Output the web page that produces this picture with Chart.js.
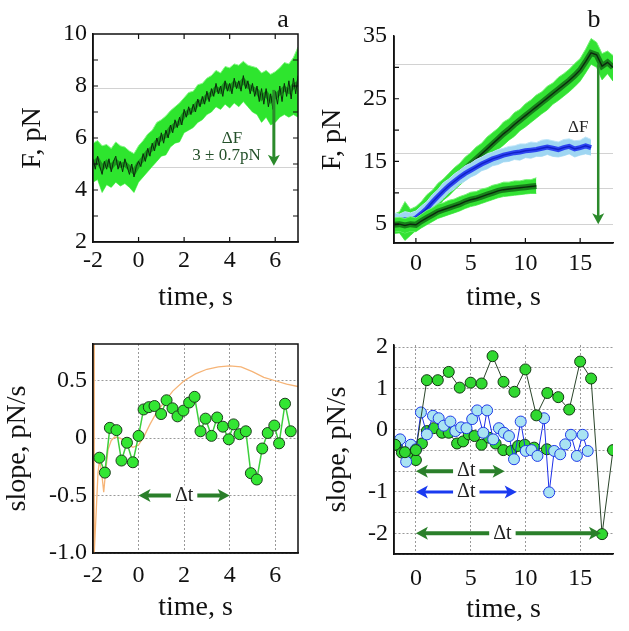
<!DOCTYPE html>
<html>
<head>
<meta charset="utf-8">
<script src="https://cdn.jsdelivr.net/npm/chart.js@4.4.0/dist/chart.umd.min.js"></script>
<style>
  html, body { margin: 0; padding: 0; background: #fff; }
  #wrap { position: relative; width: 629px; height: 631px; overflow: hidden; }
  canvas { position: absolute; }
</style>
</head>
<body>
<div id="wrap">
  <canvas id="ca" width="315" height="315" style="left:0;top:0"></canvas>
  <canvas id="cb" width="314" height="315" style="left:315px;top:0"></canvas>
  <canvas id="cc" width="315" height="316" style="left:0;top:315px"></canvas>
  <canvas id="cd" width="314" height="316" style="left:315px;top:315px"></canvas>
</div>
<script>
const SERIF = '"Liberation Serif", "Times New Roman", serif'

// ---- panel a: force trace (mean, upper and lower edge of the noise band)
const timeA = [-2.0, -1.8, -1.6, -1.4, -1.2, -1.0, -0.8, -0.6, -0.4, -0.2, 0.0, 0.2, 0.4, 0.6, 0.8, 1.0, 1.2, 1.4, 1.6, 1.8, 2.0, 2.2, 2.4, 2.6, 2.8, 3.0, 3.2, 3.4, 3.6, 3.8, 4.0, 4.2, 4.4, 4.6, 4.8, 5.0, 5.2, 5.4, 5.6, 5.8, 6.0, 6.2, 6.4, 6.6, 6.8, 7.0]
const forceA = [5.0, 5.15, 4.85, 5.05, 4.9, 5.1, 4.95, 5.0, 4.85, 4.7, 5.0, 5.2, 5.45, 5.6, 5.85, 6.0, 6.1, 6.35, 6.5, 6.6, 6.9, 7.0, 7.1, 7.35, 7.4, 7.6, 7.7, 7.9, 7.8, 8.05, 7.9, 8.1, 8.0, 8.2, 8.0, 7.9, 7.8, 7.55, 7.7, 7.45, 7.6, 7.75, 7.9, 7.8, 8.0, 8.1]
const forceHiA = [5.8, 5.9, 5.7, 5.75, 5.6, 5.85, 5.7, 5.65, 5.5, 5.4, 5.7, 5.9, 6.15, 6.3, 6.6, 6.7, 6.85, 7.05, 7.2, 7.35, 7.55, 7.75, 7.8, 8.05, 8.1, 8.3, 8.4, 8.6, 8.5, 8.75, 8.7, 8.85, 8.8, 8.95, 8.8, 8.75, 8.7, 8.5, 8.6, 8.45, 8.55, 8.7, 8.9, 8.85, 9.1, 9.5]
const forceLoA = [4.3, 4.4, 3.9, 4.2, 4.1, 4.3, 4.15, 4.25, 4.1, 3.9, 4.3, 4.5, 4.7, 4.9, 5.1, 5.3, 5.35, 5.65, 5.8, 5.85, 6.2, 6.3, 6.4, 6.6, 6.7, 6.9, 7.0, 7.2, 7.1, 7.3, 7.15, 7.35, 7.2, 7.4, 7.2, 7.0, 6.9, 6.6, 6.8, 6.5, 6.6, 6.8, 6.9, 6.8, 6.9, 6.8]
// dark raw signal every 0.1 s
const rawTimeA = [-2.0, -1.9, -1.8, -1.7, -1.6, -1.5, -1.4, -1.3, -1.2, -1.1, -1.0, -0.9, -0.8, -0.7, -0.6, -0.5, -0.4, -0.3, -0.2, -0.1, 0.0, 0.1, 0.2, 0.3, 0.4, 0.5, 0.6, 0.7, 0.8, 0.9, 1.0, 1.1, 1.2, 1.3, 1.4, 1.5, 1.6, 1.7, 1.8, 1.9, 2.0, 2.1, 2.2, 2.3, 2.4, 2.5, 2.6, 2.7, 2.8, 2.9, 3.0, 3.1, 3.2, 3.3, 3.4, 3.5, 3.6, 3.7, 3.8, 3.9, 4.0, 4.1, 4.2, 4.3, 4.4, 4.5, 4.6, 4.7, 4.8, 4.9, 5.0, 5.1, 5.2, 5.3, 5.4, 5.5, 5.6, 5.7, 5.8, 5.9, 6.0, 6.1, 6.2, 6.3, 6.4, 6.5, 6.6, 6.7, 6.8, 6.9, 7.0]
const rawForceA = [5.2, 4.8, 5.3, 4.9, 4.6, 5.1, 4.8, 5.2, 4.7, 5.1, 5.3, 4.8, 5.1, 4.7, 5.2, 4.9, 4.6, 5.0, 4.5, 4.9, 5.1, 4.9, 5.4, 5.1, 5.6, 5.3, 5.8, 5.5, 6.0, 5.7, 6.2, 5.8, 6.3, 6.0, 6.5, 6.2, 6.7, 6.4, 6.8, 6.5, 7.1, 6.8, 7.2, 6.9, 7.3, 7.0, 7.5, 7.2, 7.6, 7.3, 7.8, 7.4, 7.9, 7.6, 8.1, 7.7, 8.0, 7.6, 8.2, 7.8, 8.1, 7.7, 8.3, 7.9, 8.2, 7.8, 8.4, 7.9, 8.2, 7.7, 8.1, 7.6, 8.0, 7.4, 7.9, 7.3, 7.9, 7.2, 7.7, 7.1, 7.8, 7.3, 8.0, 7.4, 8.1, 7.6, 8.2, 7.5, 8.3, 7.7, 8.4]
const refLinesA = [7.93, 4.9]

// ---- panel b: three force traces
const timeB1 = [-2, -1.5, -1, -0.5, 0, 0.5, 1, 1.5, 2, 2.5, 3, 3.5, 4, 4.5, 5, 5.5, 6, 6.5, 7, 7.5, 8, 8.5, 9, 9.5, 10, 10.5, 11, 11.5, 12, 12.5, 13, 13.5, 14, 14.5, 15, 15.5, 16, 16.5, 17, 17.5, 18]
const forceB1 = [5.0, 5.2, 4.8, 5.3, 5.8, 6.9, 7.8, 8.7, 9.6, 10.5, 11.3, 12.2, 13.0, 13.8, 14.6, 15.4, 16.2, 17.0, 17.8, 18.6, 19.4, 20.1, 20.9, 21.6, 22.3, 23.0, 23.7, 24.4, 25.1, 25.8, 26.5, 27.2, 27.9, 28.7, 29.6, 30.9, 32.3, 32.0, 30.2, 30.8, 30.0]
const forceHiB1 = [6.6, 7.0, 8.6, 7.4, 7.8, 8.6, 9.7, 10.4, 11.5, 12.2, 13.1, 14.0, 14.7, 15.7, 16.4, 17.3, 17.9, 18.9, 19.6, 20.3, 21.3, 21.8, 22.8, 23.3, 24.2, 24.8, 25.6, 26.1, 27.0, 27.5, 28.4, 29.0, 29.7, 30.6, 31.4, 32.9, 34.6, 34.0, 32.2, 32.6, 31.9]
const forceLoB1 = [3.5, 3.6, 2.4, 3.2, 4.0, 5.1, 6.0, 6.9, 7.7, 8.8, 9.5, 10.4, 11.2, 12.0, 12.8, 13.6, 14.5, 15.1, 16.0, 16.9, 17.6, 18.4, 19.0, 19.9, 20.5, 21.2, 21.9, 22.6, 23.2, 24.1, 24.7, 25.4, 26.1, 26.9, 27.8, 29.1, 30.5, 30.0, 28.0, 29.0, 27.8]

const timeB2 = [-2, -1.5, -1, -0.5, 0, 0.5, 1, 1.5, 2, 2.5, 3, 3.5, 4, 4.5, 5, 5.5, 6, 6.5, 7, 7.5, 8, 8.5, 9, 9.5, 10, 10.5, 11, 11.5, 12, 12.5, 13, 13.5, 14, 14.5, 15, 15.5, 16]
const forceB2 = [5.6, 5.5, 5.7, 5.6, 6.0, 6.7, 7.5, 8.5, 9.4, 10.3, 11.1, 11.8, 12.5, 13.1, 13.6, 14.1, 14.6, 15.0, 15.4, 15.7, 16.0, 16.2, 16.4, 16.5, 16.7, 16.8, 16.9, 17.1, 17.3, 17.1, 16.9, 17.2, 17.4, 17.0, 17.2, 17.5, 17.2]
const forceHiB2 = [6.8, 6.6, 7.0, 6.8, 7.1, 7.9, 8.6, 9.7, 10.5, 11.6, 12.2, 13.0, 13.6, 14.3, 14.7, 15.3, 15.7, 16.2, 16.5, 16.9, 17.1, 17.4, 17.5, 17.8, 17.8, 18.1, 18.0, 18.4, 18.5, 18.3, 18.1, 18.5, 18.6, 18.3, 18.4, 18.9, 18.5]
const forceLoB2 = [4.5, 4.3, 4.6, 4.4, 4.9, 5.5, 6.4, 7.3, 8.3, 9.1, 10.0, 10.6, 11.4, 11.9, 12.5, 12.9, 13.5, 13.8, 14.3, 14.5, 14.9, 15.0, 15.3, 15.2, 15.6, 15.5, 15.8, 15.8, 16.1, 15.8, 15.7, 15.9, 16.2, 15.7, 16.0, 16.2, 16.0]

const timeB3 = [-2, -1.5, -1, -0.5, 0, 0.5, 1, 1.5, 2, 2.5, 3, 3.5, 4, 4.5, 5, 5.5, 6, 6.5, 7, 7.5, 8, 8.5, 9, 9.5, 10, 10.5, 11]
const forceB3 = [4.9, 5.0, 4.8, 5.0, 4.9, 5.5, 6.0, 6.5, 7.0, 7.3, 7.6, 7.9, 8.2, 8.6, 8.9, 9.1, 9.4, 9.7, 10.0, 10.3, 10.5, 10.6, 10.7, 10.8, 10.9, 11.0, 11.1]
const forceHiB3 = [6.0, 6.1, 5.9, 6.2, 6.0, 6.6, 7.2, 7.6, 8.2, 8.4, 8.8, 9.0, 9.4, 9.7, 10.1, 10.2, 10.6, 10.8, 11.2, 11.4, 11.7, 11.7, 11.9, 11.9, 12.1, 12.1, 12.4]
const forceLoB3 = [3.8, 3.9, 3.6, 3.9, 3.8, 4.4, 4.9, 5.4, 5.9, 6.2, 6.5, 6.8, 7.1, 7.5, 7.8, 8.0, 8.3, 8.6, 8.9, 9.2, 9.4, 9.5, 9.6, 9.7, 9.8, 9.9, 9.9]
const refLinesB = [30.5, 16.4, 10.7, 5]

// ---- panel c: slope points and smooth fit
const slopeTimeC = [-1.72, -1.48, -1.26, -0.97, -0.75, -0.51, -0.25, 0.0, 0.22, 0.45, 0.70, 0.99, 1.23, 1.49, 1.71, 1.97, 2.22, 2.46, 2.72, 2.94, 3.20, 3.45, 3.70, 3.96, 4.17, 4.43, 4.71, 4.93, 5.19, 5.43, 5.67, 5.96, 6.17, 6.43, 6.68]
const slopeC = [-0.17, -0.30, 0.09, 0.07, -0.195, -0.04, -0.21, 0.02, 0.25, 0.27, 0.28, 0.21, 0.33, 0.26, 0.19, 0.24, 0.31, 0.36, 0.06, 0.17, 0.02, 0.18, 0.10, -0.01, 0.12, 0.035, 0.06, -0.305, -0.36, -0.09, 0.045, 0.11, -0.045, 0.30, 0.06]
const fitTimeC = [-1.975, -1.965, -1.955, -1.945, -1.85, -1.78, -1.71, -1.62, -1.53, -1.45, -1.34, -1.2, -1.05, -0.8, -0.5, -0.25, 0, 0.25, 0.5, 0.75, 1.0, 1.5, 2.0, 2.5, 3.0, 3.5, 4.0, 4.5, 5.0, 5.5, 6.0, 6.5, 7.0]
const fitC = [0.82, -1.0, 0.82, -1.0, -0.6, -0.3, -0.19, -0.3, -0.47, -0.3, -0.10, -0.02, 0.01, 0.0, -0.05, -0.08, -0.06, 0.02, 0.12, 0.21, 0.28, 0.41, 0.50, 0.56, 0.60, 0.62, 0.63, 0.62, 0.58, 0.53, 0.50, 0.47, 0.45]

// ---- panel d: slopes of the three traces (axis in grid units, labels below)
const slopeTimeD1 = [-1.9, -1, 0, 1, 2, 3, 4, 5, 6, 7, 8, 9, 10, 11, 12, 13, 14, 15, 16, 17, 18]
const slopeD1 = [-0.36, -0.54, -0.49, 1.2, 1.2, 1.4, 1.02, 1.14, 1.12, 1.78, 1.16, 0.92, 1.46, 0.35, 0.89, 0.79, 0.49, 1.65, 1.24, -2.52, -0.49]
const slopeTimeD2 = [-1.44, -0.89, -0.46, 0, 0.46, 1.0, 1.56, 2.08, 2.54, 3.15, 3.6, 4.13, 4.62, 5.14, 5.6, 6.15, 6.5, 7.06, 7.58, 8.04, 8.5, 8.96, 9.57, 10.03, 10.55, 11.1, 11.7, 12.17, 12.63, 13.18, 13.64, 14.16, 14.7, 15.23, 15.69]
const slopeD2 = [-0.23, -0.77, -0.36, -0.47, 0.42, -0.11, 0.34, 0.28, 0.10, 0.20, -0.03, 0.06, 0.04, 0.26, 0.47, -0.07, 0.47, -0.23, 0.04, -0.07, -0.15, -0.71, 0.20, -0.51, -0.49, -0.63, 0.28, -1.51, -0.51, -0.59, -0.35, -0.12, -0.63, -0.12, -0.51]
const slopeTimeD3 = [-1.74, -1.28, -0.8, 0, 0.55, 1.0, 1.62, 2.39, 3.0, 3.76, 4.31, 4.83, 5.35, 5.99, 6.67, 7.28, 7.98, 8.72, 9.33, 9.94, 10.8, 11.96]
const slopeD3 = [-0.36, -0.55, -0.6, -0.73, -0.33, -0.03, 0.04, -0.07, -0.07, -0.33, -0.28, -0.11, -0.15, -0.36, -0.19, -0.33, -0.49, -0.51, -0.39, -0.36, -0.43, -0.47]
const slopeTicksD = [-3, -2.5, -2, -1.5, -1, -0.5, 0, 0.5, 1, 1.5, 2]
const slopeLabelsD = ['', '-2', '', '-1', '', '', '0', '', '1', '', '2']

const pts = (xs, ys) => xs.map((x, i) => ({ x: x, y: ys[i] }))

function drawArrow(ctx, x1, y1, x2, y2, color, w, hl, hw, both) {
    const ang = Math.atan2(y2 - y1, x2 - x1)
    const c = Math.cos(ang), s = Math.sin(ang)
    ctx.strokeStyle = color
    ctx.fillStyle = color
    ctx.lineWidth = w
    ctx.beginPath()
    ctx.moveTo(both ? x1 + c * hl * 0.7 : x1, both ? y1 + s * hl * 0.7 : y1)
    ctx.lineTo(x2 - c * hl * 0.7, y2 - s * hl * 0.7)
    ctx.stroke()
    const head = (hx, hy, cc, ss) => {
        ctx.beginPath()
        ctx.moveTo(hx, hy)
        ctx.lineTo(hx - hl * cc - hw * ss, hy - hl * ss + hw * cc)
        ctx.lineTo(hx - hl * cc * 0.75, hy - hl * ss * 0.75)
        ctx.lineTo(hx - hl * cc + hw * ss, hy - hl * ss - hw * cc)
        ctx.closePath()
        ctx.fill()
    }
    head(x2, y2, c, s)
    if (both) head(x1, y1, -c, -s)
}

const marks = {
    id: 'marks',
    beforeDatasetsDraw(chart, args, o) {
        const { ctx, chartArea: a, scales: { y } } = chart
        ctx.save()
        ctx.strokeStyle = '#d2d2d2'
        ctx.lineWidth = 1
        ;(o.refLines || []).forEach(v => {
            const py = Math.round(y.getPixelForValue(v)) + 0.5
            ctx.beginPath()
            ctx.moveTo(a.left, py)
            ctx.lineTo(a.right, py)
            ctx.stroke()
        })
        ctx.restore()
    },
    afterDatasetsDraw(chart, args, o) {
        const { ctx, chartArea: a, scales: { x, y } } = chart
        ctx.save()
        // axis frame
        ctx.strokeStyle = '#111'
        ctx.lineWidth = 1.5
        ctx.beginPath()
        ctx.moveTo(a.left, a.top)
        ctx.lineTo(a.left, a.bottom)
        ctx.lineTo(a.right, a.bottom)
        if (o.box) {
            ctx.lineTo(a.right, a.top)
            ctx.closePath()
        }
        ctx.stroke()
        // inward tick marks
        const tk = o.ticks || {}
        const L = 5
        ctx.lineWidth = 1.2
        ctx.beginPath()
        ;(tk.left || []).forEach(v => { const p = y.getPixelForValue(v); ctx.moveTo(a.left, p); ctx.lineTo(a.left + L, p) })
        ;(tk.right || []).forEach(v => { const p = y.getPixelForValue(v); ctx.moveTo(a.right, p); ctx.lineTo(a.right - L, p) })
        ;(tk.bottom || []).forEach(v => { const p = x.getPixelForValue(v); ctx.moveTo(p, a.bottom); ctx.lineTo(p, a.bottom - L) })
        ;(tk.top || []).forEach(v => { const p = x.getPixelForValue(v); ctx.moveTo(p, a.top); ctx.lineTo(p, a.top + L) })
        ctx.stroke()
        // arrows
        ;(o.arrows || []).forEach(r => {
            drawArrow(ctx, x.getPixelForValue(r.x1), y.getPixelForValue(r.y1),
                x.getPixelForValue(r.x2), y.getPixelForValue(r.y2),
                r.color, r.w, r.hl, r.hw, r.both)
        })
        // annotation texts
        ;(o.texts || []).forEach(t => {
            ctx.font = t.size + 'px ' + SERIF
            const px = x.getPixelForValue(t.x), py = y.getPixelForValue(t.y)
            if (t.bg) {
                const w = ctx.measureText(t.text).width
                ctx.fillStyle = '#fff'
                ctx.fillRect(px - w / 2 - 4, py - t.size * 0.5, w + 8, t.size)
            }
            ctx.fillStyle = t.color
            ctx.textAlign = 'center'
            ctx.textBaseline = 'middle'
            ctx.fillText(t.text, px, py)
        })
        // panel letter
        if (o.letter) {
            ctx.font = '26px ' + SERIF
            ctx.fillStyle = '#111'
            ctx.textAlign = 'center'
            ctx.textBaseline = 'alphabetic'
            ctx.fillText(o.letter.text, o.letter.px, o.letter.py)
        }
        ctx.restore()
    },
}

function axis(isX, s) {
    return {
        type: 'linear',
        position: isX ? 'bottom' : 'left',
        min: s.min,
        max: s.max,
        afterBuildTicks: sc => { sc.ticks = s.ticks.map(v => ({ value: v })) },
        afterFit: sc => { if (isX) sc.height = s.size; else sc.width = s.size },
        ticks: {
            font: { family: SERIF, size: 24 },
            color: '#111',
            padding: s.labelPad,
            autoSkip: false,
            maxRotation: 0,
            callback: s.label || (v => String(v)),
        },
        grid: { display: !!s.grid, color: '#999', lineWidth: 1, drawTicks: false },
        border: { display: true, color: '#111', width: 1.5, dash: s.grid ? [2, 2] : [] },
        title: {
            display: true,
            text: s.title,
            color: '#111',
            font: { family: SERIF, size: 28 },
            padding: isX ? { top: 0, bottom: s.titlePad } : { top: s.titlePad, bottom: 0 },
        },
    }
}

// four datasets for one noisy trace: dark core, mid band, outer band (hi filled down to lo)
function trace(list, t, mid, hi, lo, c, rawT, raw) {
    const base = list.length
    list.push(
        { data: pts(rawT || t, raw || mid), borderColor: c.core, borderWidth: c.coreW, order: base },
        { data: pts(t, mid), borderColor: c.mid, borderWidth: c.midW, order: base + 1 },
        { data: pts(t, hi), borderColor: c.edge, borderWidth: 1, backgroundColor: c.band, fill: base + 3, order: base + 2 },
        { data: pts(t, lo), borderColor: c.edge, borderWidth: 1, order: base + 3 }
    )
    return list
}

const greenTrace = { core: '#0c2a0e', coreW: 1, mid: '#1a9a1c', midW: 5, edge: '#86f786', band: '#2ee52e' }
const greenTraceB = { core: '#0c2a0e', coreW: 1.4, mid: '#17801a', midW: 6, edge: '#74f374', band: '#33e233' }
const blueTrace = { core: '#1020c8', coreW: 1.4, mid: '#2c44f0', midW: 5, edge: '#bfe6f8', band: '#9fd6f2' }

function makeChart(id, o) {
    return new Chart(document.getElementById(id), {
        type: 'line',
        data: { datasets: o.datasets },
        plugins: [marks],
        options: {
            responsive: false,
            animation: false,
            events: [],
            layout: { autoPadding: false, padding: o.pad },
            elements: { line: { tension: 0 }, point: { radius: 0 } },
            plugins: { legend: { display: false }, tooltip: { enabled: false }, marks: o.marks },
            scales: { x: axis(true, o.x), y: axis(false, o.y) },
        },
    })
}

// a
makeChart('ca', {
    datasets: trace([], timeA, forceA, forceHiA, forceLoA, greenTrace, rawTimeA, rawForceA),
    pad: { top: 34, right: 17, left: 0, bottom: 0 },
    x: { min: -2, max: 7, ticks: [-2, 0, 2, 4, 6], size: 73, labelPad: 4, title: 'time, s', titlePad: 1 },
    y: { min: 2, max: 10, ticks: [2, 4, 6, 8, 10], size: 93, labelPad: 6, title: 'F, pN', titlePad: 16 },
    marks: {
        box: true,
        refLines: refLinesA,
        ticks: { left: [3, 4, 5, 6, 7, 8, 9], right: [3, 4, 5, 6, 7, 8, 9], bottom: [0, 2, 4, 6], top: [0, 2, 4, 6] },
        arrows: [{ x1: 5.94, y1: 7.85, x2: 5.94, y2: 4.93, color: '#2b8a2b', w: 3, hl: 11, hw: 6 }],
        texts: [
            { x: 4.1, y: 5.98, text: 'ΔF', size: 17, color: '#24502a' },
            { x: 3.86, y: 5.31, text: '3 ± 0.7pN', size: 17, color: '#24502a' },
        ],
        letter: { text: 'a', px: 283, py: 27 },
    },
})

// b
const dsB = []
trace(dsB, timeB3, forceB3, forceHiB3, forceLoB3, greenTraceB)
trace(dsB, timeB2, forceB2, forceHiB2, forceLoB2, blueTrace)
trace(dsB, timeB1, forceB1, forceHiB1, forceLoB1, greenTraceB)
makeChart('cb', {
    datasets: dsB,
    pad: { top: 36, right: 16, left: 0, bottom: 0 },
    x: { min: -2, max: 18, ticks: [0, 5, 10, 15], size: 72, labelPad: 6, title: 'time, s', titlePad: 1 },
    y: { min: 2, max: 35, ticks: [5, 15, 25, 35], size: 79, labelPad: 7, title: 'F, pN', titlePad: 1 },
    marks: {
        refLines: refLinesB,
        ticks: { left: [5, 10, 15, 20, 25, 30], bottom: [0, 5, 10, 15] },
        arrows: [{ x1: 16.65, y1: 30.5, x2: 16.65, y2: 5, color: '#2b8a2b', w: 2.5, hl: 11, hw: 6 }],
        texts: [{ x: 14.83, y: 20.4, text: 'ΔF', size: 17, color: '#222' }],
        letter: { text: 'b', px: 279, py: 27 },
    },
})

// c
makeChart('cc', {
    datasets: [
        {
            data: pts(slopeTimeC, slopeC), borderColor: '#3ccf3c', borderWidth: 1.5, order: 0,
            pointRadius: 5.5, pointBackgroundColor: '#33e633', pointBorderColor: '#1c3c1c', pointBorderWidth: 1,
        },
        { data: pts(fitTimeC, fitC), borderColor: '#f6b477', borderWidth: 1.3, order: 1 },
    ],
    pad: { top: 29, right: 17, left: 0, bottom: 0 },
    x: { min: -2, max: 7, ticks: [-2, 0, 2, 4, 6], size: 78, labelPad: 8, title: 'time, s', titlePad: 7, grid: true },
    y: {
        min: -1, max: 0.82, ticks: [-1, -0.5, 0, 0.5], size: 93, labelPad: 6, title: 'slope, pN/s', titlePad: 1, grid: true,
        label: v => (v === -1 ? '-1.0' : String(v)),
    },
    marks: {
        box: true,
        arrows: [{ x1: 0, y1: -0.5, x2: 4, y2: -0.5, color: '#2a7f2a', w: 4, hl: 12, hw: 6.5, both: true }],
        texts: [{ x: 2, y: -0.5, text: 'Δt', size: 20, color: '#222', bg: true }],
    },
})

// d
makeChart('cd', {
    datasets: [
        {
            data: pts(slopeTimeD1, slopeD1), borderColor: '#2a442a', borderWidth: 1, order: 0,
            pointRadius: 5.5, pointBackgroundColor: '#30d830', pointBorderColor: '#123812', pointBorderWidth: 1,
        },
        {
            data: pts(slopeTimeD2, slopeD2), borderColor: '#1c2ee8', borderWidth: 1, order: 1,
            pointRadius: 5.5, pointBackgroundColor: '#a9e3f2', pointBorderColor: '#1e3ae8', pointBorderWidth: 1,
        },
        {
            data: pts(slopeTimeD3, slopeD3), borderColor: '#2a5a2a', borderWidth: 1, order: 2,
            pointRadius: 5.5, pointBackgroundColor: '#30d830', pointBorderColor: '#123812', pointBorderWidth: 1,
        },
    ],
    pad: { top: 30, right: 16, left: 0, bottom: 0 },
    x: { min: -2, max: 18, ticks: [0, 5, 10, 15], size: 77, labelPad: 10, title: 'time, s', titlePad: 5, grid: true },
    y: {
        min: -3, max: 2.05, ticks: slopeTicksD, size: 79, labelPad: 6, title: 'slope, pN/s', titlePad: 6, grid: true,
        label: (v, i) => slopeLabelsD[i],
    },
    marks: {
        arrows: [
            { x1: 0, y1: -1.0, x2: 8.1, y2: -1.0, color: '#2a7f2a', w: 4, hl: 12, hw: 6.5, both: true },
            { x1: 0, y1: -1.5, x2: 9.2, y2: -1.5, color: '#1a3af0', w: 3, hl: 12, hw: 6.5, both: true },
            { x1: 0, y1: -2.5, x2: 16.9, y2: -2.5, color: '#2a7f2a', w: 4, hl: 12, hw: 6.5, both: true },
        ],
        texts: [
            { x: 4.6, y: -1.0, text: 'Δt', size: 20, color: '#222', bg: true },
            { x: 4.6, y: -1.5, text: 'Δt', size: 20, color: '#222', bg: true },
            { x: 7.9, y: -2.5, text: 'Δt', size: 20, color: '#222', bg: true },
        ],
    },
})
</script>
</body>
</html>
